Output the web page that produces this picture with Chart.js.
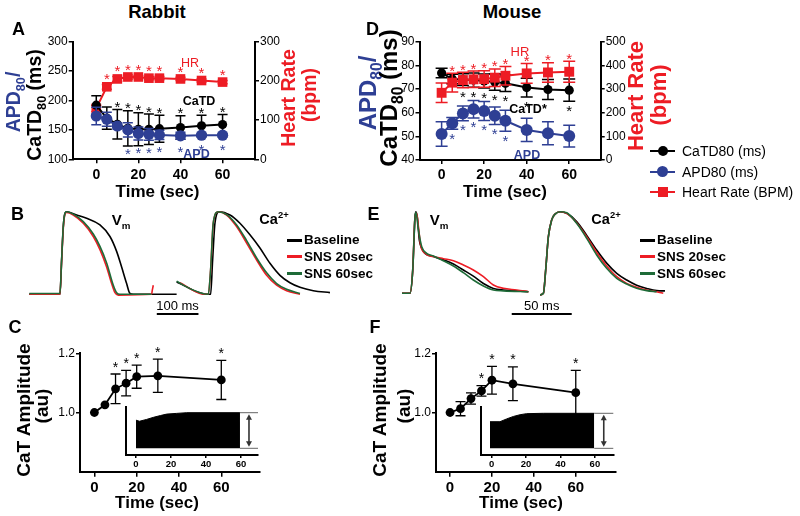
<!DOCTYPE html>
<html><head><meta charset="utf-8">
<script src="https://cdn.jsdelivr.net/npm/chart.js@4.4.1/dist/chart.umd.min.js"></script>
<style>
html,body{margin:0;padding:0;background:#fff;}
#fig{position:relative;width:800px;height:516px;overflow:hidden;font-family:"Liberation Sans",Arial,sans-serif;color:#000;background:#fff;}
#fig canvas{position:absolute;}
.t{position:absolute;white-space:nowrap;line-height:1;transform:translate(-50%,-50%);}
.r{transform:translate(-50%,-50%) rotate(-90deg);}
.b{font-weight:bold;}
.l{position:absolute;white-space:nowrap;line-height:1;transform:translate(0,-50%);}
.sw{position:absolute;}
sub,sup{font-size:65%;line-height:0;}
</style></head>
<body>
<div id="fig">
<canvas id="cA" width="285" height="175" style="left:20px;top:30px"></canvas>
<canvas id="cD" width="270" height="175" style="left:370px;top:30px"></canvas>
<canvas id="cB" width="304" height="115" style="left:29px;top:205px"></canvas>
<canvas id="cE" width="265" height="115" style="left:402px;top:205px"></canvas>
<canvas id="cC" width="250" height="196" style="left:20px;top:320px"></canvas>
<canvas id="cF" width="250" height="196" style="left:380px;top:320px"></canvas>
<canvas id="cCi" width="145" height="75" style="left:120px;top:400px"></canvas>
<canvas id="cFi" width="145" height="75" style="left:475px;top:400px"></canvas>

<div class="t b" style="left:157px;top:12px;font-size:18.5px">Rabbit</div>
<div class="t b" style="left:512px;top:12px;font-size:18.5px">Mouse</div>
<div class="t b" style="left:18.5px;top:29px;font-size:18px">A</div>
<div class="t b" style="left:372.5px;top:29px;font-size:18px">D</div>
<div class="t b" style="left:17.5px;top:214px;font-size:18px">B</div>
<div class="t b" style="left:373.5px;top:214px;font-size:18px">E</div>
<div class="t b" style="left:15px;top:327px;font-size:18px">C</div>
<div class="t b" style="left:375px;top:327px;font-size:18px">F</div>

<div class="t r b" style="left:14px;top:102px;font-size:19.5px;color:#2e3f94">APD<sub>80</sub>/</div>
<div class="t r b" style="left:35px;top:105px;font-size:19.5px">CaTD<sub>80</sub> (ms)</div>
<div class="t r b" style="left:288.5px;top:97.5px;font-size:19.5px;color:#ed1c24">Heart Rate</div>
<div class="t r b" style="left:310px;top:95px;font-size:19.5px;color:#ed1c24">(bpm)</div>
<div class="t b" style="left:157.5px;top:191px;font-size:17px">Time (sec)</div>
<div class="t" style="left:190px;top:63px;font-size:12.5px;color:#ed1c24">HR</div>
<div class="t b" style="left:199px;top:101px;font-size:12.5px">CaTD</div>
<div class="t b" style="left:196.5px;top:154px;font-size:12.5px;color:#2e3f94">APD</div>

<div class="t r b" style="left:367.5px;top:93px;font-size:24px;color:#2e3f94">APD<sub>80</sub>/</div>
<div class="t r b" style="left:389px;top:98px;font-size:24px">CaTD<sub>80</sub> (ms)</div>
<div class="t r b" style="left:636px;top:96px;font-size:22px;color:#ed1c24">Heart Rate</div>
<div class="t r b" style="left:659px;top:95px;font-size:22px;color:#ed1c24">(bpm)</div>
<div class="t b" style="left:505px;top:191px;font-size:17px">Time (sec)</div>
<div class="t" style="left:520px;top:51px;font-size:13px;color:#ed1c24">HR</div>
<div class="t b" style="left:528px;top:109px;font-size:12.5px">CaTD*</div>
<div class="t b" style="left:527px;top:155px;font-size:12.5px;color:#2e3f94">APD</div>

<div class="sw" style="left:650px;top:149.7px;width:25px;height:2px;background:#000"></div>
<div class="sw" style="left:657.5px;top:145.7px;width:10px;height:10px;border-radius:50%;background:#000"></div>
<div class="l" style="left:682px;top:151px;font-size:14px">CaTD80 (ms)</div>
<div class="sw" style="left:650px;top:170.7px;width:25px;height:2px;background:#2e3f94"></div>
<div class="sw" style="left:657px;top:166.2px;width:11px;height:11px;border-radius:50%;background:#2e3f94"></div>
<div class="l" style="left:682px;top:172px;font-size:14px">APD80 (ms)</div>
<div class="sw" style="left:650px;top:190.7px;width:25px;height:2px;background:#ed1c24"></div>
<div class="sw" style="left:657.5px;top:186.7px;width:10px;height:10px;background:#ed1c24"></div>
<div class="l" style="left:682px;top:192px;font-size:14px">Heart Rate (BPM)</div>

<div class="t b" style="left:121px;top:219px;font-size:15px">V<sub>m</sub></div>
<div class="t b" style="left:274px;top:219px;font-size:14.5px">Ca<sup>2+</sup></div>
<div class="sw" style="left:287px;top:238.5px;width:15px;height:3px;background:#000"></div>
<div class="l b" style="left:304px;top:240px;font-size:13.5px">Baseline</div>
<div class="sw" style="left:287px;top:255.2px;width:15px;height:3px;background:#ed1c24"></div>
<div class="l b" style="left:304px;top:257px;font-size:13.5px">SNS 20sec</div>
<div class="sw" style="left:287px;top:271.8px;width:15px;height:3px;background:#1e6b38"></div>
<div class="l b" style="left:304px;top:273.5px;font-size:13.5px">SNS 60sec</div>
<div class="t" style="left:177.5px;top:305px;font-size:13px">100 ms</div>

<div class="t b" style="left:439px;top:219px;font-size:15px">V<sub>m</sub></div>
<div class="t b" style="left:606px;top:219px;font-size:14.5px">Ca<sup>2+</sup></div>
<div class="sw" style="left:640px;top:238.5px;width:15px;height:3px;background:#000"></div>
<div class="l b" style="left:657px;top:240px;font-size:13.5px">Baseline</div>
<div class="sw" style="left:640px;top:255.2px;width:15px;height:3px;background:#ed1c24"></div>
<div class="l b" style="left:657px;top:257px;font-size:13.5px">SNS 20sec</div>
<div class="sw" style="left:640px;top:271.8px;width:15px;height:3px;background:#1e6b38"></div>
<div class="l b" style="left:657px;top:273.5px;font-size:13.5px">SNS 60sec</div>
<div class="t" style="left:541.7px;top:305px;font-size:13px">50 ms</div>

<div class="t r b" style="left:23px;top:410px;font-size:19px">CaT Amplitude</div>
<div class="t r b" style="left:41px;top:406px;font-size:19px">(au)</div>
<div class="t b" style="left:157px;top:502px;font-size:17px">Time (sec)</div>
<div class="t r b" style="left:379px;top:410px;font-size:19px">CaT Amplitude</div>
<div class="t r b" style="left:403px;top:406px;font-size:19px">(au)</div>
<div class="t b" style="left:521px;top:502px;font-size:17px">Time (sec)</div>
</div>

<script>
// ---------------- data ----------------
const timePoints = [0, 5, 10, 15, 20, 25, 30, 40, 50, 60];
const timeTicks = [0, 20, 40, 60];

const rabbitCaTD    = [192, 170, 159.5, 152.7, 151, 151, 152, 154, 157, 159];
const rabbitCaTDErr = [16, 19, 25, 30, 28, 26, 23, 20, 18, 17];
const rabbitAPD     = [173.6, 168, 156.6, 150, 144, 142.5, 141.5, 140, 141, 141];
const rabbitAPDErr  = [15, 12, 5, 12, 11, 10, 8, 6, 3, 3];
const rabbitHR      = [130, 185, 205, 210, 210, 207, 207, 205, 201, 197];
const rabbitHRErr   = [8, 6, 6, 5, 4, 4, 4, 4, 4, 4];
const rabbitHRSig   = [0, 1, 1, 1, 1, 1, 1, 1, 1, 1];
const rabbitCaTDSig = [0, 0, 1, 1, 1, 1, 1, 1, 1, 1];
const rabbitAPDSig  = [0, 0, 0, 1, 1, 1, 1, 1, 1, 1];
const rabbitMsTicks = [100, 150, 200, 250, 300];
const rabbitHRTicks = [0, 100, 200, 300];

const mouseCaTD    = [76.8, 74.2, 74.0, 73.8, 73.4, 73.0, 72.4, 70.6, 69.8, 69.5];
const mouseCaTDErr = [2, 2, 2.5, 3, 3, 3.5, 3.5, 4, 4.2, 4.7];
const mouseAPD     = [51.0, 55.5, 59.7, 61.5, 60.7, 58.7, 56.6, 52.7, 51.3, 50.1];
const mouseAPDErr  = [5.2, 2.5, 3.1, 3.7, 4, 3.7, 4.4, 4.9, 4.9, 4.6];
const mouseHR      = [284, 327, 338, 341, 342, 348, 356, 366, 370, 373];
const mouseHRErr   = [41, 40, 33, 35, 35, 37, 39, 42, 41, 44];
const mouseHRSig   = [0, 1, 1, 1, 1, 1, 1, 1, 1, 1];
const mouseCaTDSig = [0, 0, 1, 1, 1, 1, 1, 1, 0, 1];
const mouseAPDSig  = [0, 1, 1, 1, 1, 1, 1, 0, 0, 0];
const mouseMsTicks = [40, 50, 60, 70, 80, 90];
const mouseHRTicks = [0, 100, 200, 300, 400, 500];

// optical traces: [time (ms), normalised amplitude]
const rabbitVmBaseline = [[0,0],[73.6,0],[77.6,0.415],[81.6,0.82],[85.6,0.98],[89.6,1.0],[113.6,0.96],[137.6,0.92],[169.6,0.84],[193.6,0.70],[209.6,0.52],[221.6,0.33],[233.6,0.13],[241.6,0.01],[249.6,0],[353.6,0]];
const rabbitVmSNS20 = [[0,0],[73.6,0],[77.6,0.4],[81.6,0.8],[85.6,0.97],[89.6,0.99],[105.6,0.96],[129.6,0.86],[153.6,0.70],[169.6,0.54],[185.6,0.33],[197.6,0.13],[205.6,0.02],[213.6,-0.01],[293.6,0],[295.2,0.05],[297.6,0.11]];
const rabbitVmSNS60 = [[0,0.01],[73.6,0.01],[77.6,0.42],[81.6,0.82],[85.6,0.98],[89.6,1.0],[105.6,0.97],[129.6,0.88],[153.6,0.73],[169.6,0.58],[185.6,0.38],[201.6,0.11],[209.6,0.02],[217.6,0],[293.6,0]];
const rabbitCaBaseline = [[353.6,0.15],[377.6,0.09],[401.6,0.03],[425.6,0],[435.2,0],[440,0.415],[445.6,0.86],[456,1.0],[481.6,0.96],[505.6,0.86],[529.6,0.72],[553.6,0.56],[577.6,0.375],[601.6,0.23],[625.6,0.14],[649.6,0.085],[681.6,0.044],[721.6,0.02]];
const rabbitCaSNS20 = [[361.6,0.14],[409.6,0.01],[429.6,0],[435.2,0.29],[441.6,0.86],[453.6,1.0],[473.6,0.96],[497.6,0.82],[521.6,0.62],[545.6,0.415],[569.6,0.23],[593.6,0.11],[617.6,0.044],[649.6,0]];
const rabbitCaSNS60 = [[353.6,0.16],[377.6,0.09],[409.6,0.02],[429.6,0],[435.2,0.3],[441.6,0.87],[453.6,1.0],[473.6,0.965],[497.6,0.84],[521.6,0.65],[545.6,0.44],[569.6,0.26],[593.6,0.13],[617.6,0.06],[649.6,0.01]];

const mouseVmBaseline = [[0,0],[6.9,0],[9.2,0.286],[11.1,0.94],[11.9,1.0],[13.1,0.92],[14.7,0.65],[16.7,0.55],[19.4,0.49],[26.4,0.45],[34.7,0.41],[43.1,0.36],[51.4,0.286],[59.7,0.21],[68.1,0.12],[76.4,0.06],[84.7,0.04],[95.8,0.03],[105.6,0.02]];
const mouseVmSNS20 = [[0,0],[6.9,0],[9.2,0.286],[11.1,0.94],[12.5,0.98],[13.9,0.82],[15.8,0.59],[19.4,0.49],[26.4,0.45],[34.7,0.424],[43.1,0.40],[51.4,0.347],[59.7,0.286],[68.1,0.204],[76.4,0.102],[84.7,0.061],[95.8,0.041],[105.6,0.02]];
const mouseVmSNS60 = [[0,0],[6.9,0],[9.2,0.286],[11.1,0.94],[11.9,0.99],[13.9,0.78],[16.7,0.57],[20.8,0.49],[26.4,0.457],[34.7,0.40],[43.1,0.335],[51.4,0.253],[59.7,0.163],[68.1,0.09],[76.4,0.04],[84.7,0.03],[105.6,0.02]];
const mouseCaBaseline = [[115.3,-0.02],[118.1,0],[120,0.286],[122.2,0.69],[125,0.9],[127.8,0.97],[132,1.0],[137.5,0.98],[145.8,0.88],[154.2,0.71],[162.5,0.53],[170.8,0.37],[179.2,0.245],[187.5,0.163],[195.8,0.10],[204.2,0.06],[212.5,0.033],[219.4,0.03]];
const mouseCaSNS20 = [[115.3,-0.02],[118.1,0],[120,0.286],[122.2,0.69],[125,0.9],[127.8,0.97],[132,1.0],[137.5,0.98],[145.8,0.865],[154.2,0.69],[162.5,0.50],[170.8,0.335],[179.2,0.204],[187.5,0.122],[195.8,0.073],[204.2,0.04],[212.5,0.02],[218,0]];
const mouseCaSNS60 = [[115.3,-0.02],[118.1,0],[120,0.286],[122.2,0.69],[125,0.9],[127.8,0.97],[132,1.0],[137.5,0.988],[145.8,0.857],[154.2,0.673],[162.5,0.47],[170.8,0.306],[179.2,0.184],[187.5,0.114],[195.8,0.061],[204.2,0.033],[212.5,0.02]];

// CaT amplitude
const ampTimes = [0, 5, 10, 15, 20, 30, 60];
const rabbitAmp    = [1.0, 1.026, 1.08, 1.099, 1.121, 1.124, 1.11];
const rabbitAmpErr = [0, 0, 0.05, 0.043, 0.039, 0.056, 0.066];
const rabbitAmpSig = [0, 0, 1, 1, 1, 1, 1];
const mouseAmp     = [1.0, 1.013, 1.047, 1.073, 1.109, 1.097, 1.067];
const mouseAmpErr  = [0, 0.024, 0.019, 0.018, 0.047, 0.057, 0.075];
const mouseAmpSig  = [0, 0, 0, 1, 1, 1, 1];
const ampTicks = [1.0, 1.2];

// inset envelopes (upper envelope of the CaT train, normalised)
const rabbitInsetT   = [0, 2, 6, 10, 14, 17.5, 23, 29, 59.4];
const rabbitInsetTop = [0.79, 0.76, 0.81, 0.87, 0.92, 0.96, 0.98, 1.0, 1.0];
const mouseInsetT    = [-1, 4.8, 8.7, 12.6, 16.5, 20.3, 30, 59.6];
const mouseInsetTop  = [0.76, 0.76, 0.84, 0.91, 0.96, 0.99, 1.0, 1.0];

// ---------------- helpers ----------------
const FONT = '"Liberation Sans", Arial, sans-serif';
const RED = '#ed1c24', BLUE = '#2e3f94', GREEN = '#1e6b38', BLACK = '#000';
const pts = (xs, ys) => xs.map((x, i) => ({x, y: ys[i]}));
const pairs = arr => arr.map(([x, y]) => ({x, y}));

function errPix(chart, di, i, sign) {
  const ds = chart.data.datasets[di];
  const meta = chart.getDatasetMeta(di);
  const sc = chart.scales[meta.yAxisID];
  const e = ds.errors ? (ds.errors[i] || 0) : 0;
  return sc.getPixelForValue(ds.data[i].y + sign * e);
}

const errorBarPlugin = {
  id: 'errorBars',
  beforeDatasetDraw(chart, args) {
    const ds = chart.data.datasets[args.index];
    if (!ds.errors) return;
    const meta = args.meta, ctx = chart.ctx;
    const cap = ds.errCap || 5;
    ctx.save();
    ctx.strokeStyle = ds.borderColor;
    ctx.lineWidth = ds.errWidth || 1.5;
    meta.data.forEach((pt, i) => {
      if (!ds.errors[i]) return;
      const x = pt.x;
      const yT = errPix(chart, args.index, i, 1), yB = errPix(chart, args.index, i, -1);
      ctx.beginPath();
      ctx.moveTo(x, yT); ctx.lineTo(x, yB);
      ctx.moveTo(x - cap, yT); ctx.lineTo(x + cap, yT);
      ctx.moveTo(x - cap, yB); ctx.lineTo(x + cap, yB);
      ctx.stroke();
    });
    ctx.restore();
  }
};

const starPlugin = {
  id: 'stars',
  afterDatasetsDraw(chart) {
    const ctx = chart.ctx;
    chart.data.datasets.forEach((ds, di) => {
      if (!ds.sig) return;
      const meta = chart.getDatasetMeta(di);
      const size = ds.starSize || 15;
      ctx.save();
      ctx.font = size + 'px ' + FONT;
      ctx.fillStyle = ds.borderColor;
      ctx.textAlign = 'center';
      ctx.textBaseline = 'alphabetic';
      ds.sig.forEach((s, i) => {
        if (!s) return;
        const x = meta.data[i].x;
        let y;
        if (ds.starSide === 'below') {
          y = errPix(chart, di, i, -1) + ds.starGap;
          (ds.starAvoid || []).forEach(([oi, g]) => { y = Math.max(y, errPix(chart, oi, i, -1) + g); });
        } else {
          y = errPix(chart, di, i, 1) - ds.starGap;
          (ds.starAvoid || []).forEach(([oi, g]) => { y = Math.min(y, errPix(chart, oi, i, 1) - g); });
        }
        ctx.fillText('*', x, y + 0.57 * size);
      });
      ctx.restore();
    });
  }
};

const scaleBarPlugin = {
  id: 'scaleBar',
  afterDraw(chart, args, o) {
    if (!o || o.length == null) return;
    const xs = chart.scales.x, ys = chart.scales.y, ctx = chart.ctx;
    ctx.save();
    ctx.strokeStyle = '#000'; ctx.lineWidth = 2;
    ctx.beginPath();
    const y = ys.getPixelForValue(o.level);
    ctx.moveTo(xs.getPixelForValue(o.start), y);
    ctx.lineTo(xs.getPixelForValue(o.start + o.length), y);
    ctx.stroke();
    ctx.restore();
  }
};

const insetPlugin = {
  id: 'insetMarks',
  afterDraw(chart, args, o) {
    if (!o || o.from == null) return;
    const xs = chart.scales.x, ys = chart.scales.y, ctx = chart.ctx;
    const x0 = xs.getPixelForValue(o.from), x1 = chart.chartArea.right;
    const yTop = ys.getPixelForValue(1), yBot = ys.getPixelForValue(0);
    ctx.save();
    ctx.strokeStyle = '#666'; ctx.lineWidth = 1;
    ctx.beginPath();
    ctx.moveTo(x0, yTop); ctx.lineTo(x1, yTop);
    ctx.moveTo(x0, yBot); ctx.lineTo(x1, yBot);
    ctx.stroke();
    const xa = (x0 + x1) / 2;
    ctx.strokeStyle = '#333'; ctx.fillStyle = '#333'; ctx.lineWidth = 1.6;
    ctx.beginPath(); ctx.moveTo(xa, yTop + 4); ctx.lineTo(xa, yBot - 4); ctx.stroke();
    ctx.beginPath(); ctx.moveTo(xa, yTop + 1.5); ctx.lineTo(xa - 3, yTop + 7); ctx.lineTo(xa + 3, yTop + 7); ctx.closePath(); ctx.fill();
    ctx.beginPath(); ctx.moveTo(xa, yBot - 1.5); ctx.lineTo(xa - 3, yBot - 7); ctx.lineTo(xa + 3, yBot - 7); ctx.closePath(); ctx.fill();
    ctx.restore();
  }
};

const baseOpts = {
  responsive: false, animation: false, devicePixelRatio: 1, events: [],
  plugins: { legend: {display: false}, tooltip: {enabled: false} }
};

function axis(o) {
  const a = {
    type: 'linear',
    grid: {drawOnChartArea: false, drawTicks: true, tickLength: 4, color: '#000', lineWidth: 1.5},
    border: {display: true, color: '#000', width: 2},
    ticks: {color: '#000', autoSkip: false, maxRotation: 0, padding: 1, font: {family: FONT, size: 12}}
  };
  if (o.tickVals) a.afterBuildTicks = s => { s.ticks = o.tickVals.map(v => ({value: v})); };
  if (o.w != null) a.afterFit = s => { s.width = o.w; };
  if (o.h != null) a.afterFit = s => { s.height = o.h; };
  for (const k of ['min', 'max', 'position', 'display']) if (o[k] !== undefined) a[k] = o[k];
  if (o.bold) { a.ticks.font = {family: FONT, size: o.bold, weight: 'bold'}; a.ticks.padding = o.pad != null ? o.pad : 3; }
  if (o.fmt) a.ticks.callback = o.fmt;
  if (o.noTickLabels) { a.ticks.display = false; a.grid.drawTicks = false; }
  if (o.tickLen) a.grid.tickLength = o.tickLen;
  return a;
}

function series(label, xs, ys, o) {
  return Object.assign({
    label, data: pts(xs, ys), borderColor: o.color, backgroundColor: o.color,
    borderWidth: 2, pointBorderWidth: 0, pointRadius: 4.5, clip: false
  }, o.extra);
}

// ---------------- Panel A ----------------
new Chart(document.getElementById('cA'), {
  type: 'line',
  data: {datasets: [
    series('Heart Rate (BPM)', timePoints, rabbitHR, {color: RED, extra: {yAxisID: 'y2', pointStyle: 'rect', pointRadius: 6.8, order: 3,
      errors: rabbitHRErr, errCap: 5, sig: rabbitHRSig, starSide: 'above', starGap: 9}}),
    series('CaTD80 (ms)', timePoints, rabbitCaTD, {color: BLACK, extra: {yAxisID: 'y', pointRadius: 4.6, order: 2,
      errors: rabbitCaTDErr, errCap: 5, sig: rabbitCaTDSig, starSide: 'above', starGap: 6}}),
    series('APD80 (ms)', timePoints, rabbitAPD, {color: BLUE, extra: {yAxisID: 'y', pointRadius: 5.6, order: 1,
      errors: rabbitAPDErr, errCap: 5, sig: rabbitAPDSig, starSide: 'below', starGap: 9, starAvoid: [[1, 4]]}})
  ]},
  options: Object.assign({}, baseOpts, {
    layout: {padding: {top: 11.7, left: 0, right: 0, bottom: 0}},
    scales: {
      x: axis({min: -11.2, max: 75.4, tickVals: timeTicks, h: 45.7, bold: 14, pad: 3}),
      y: axis({min: 100, max: 300, tickVals: rabbitMsTicks, w: 52.7, position: 'left'}),
      y2: axis({min: 0, max: 300, tickVals: rabbitHRTicks, w: 50, position: 'right'})
    }
  }),
  plugins: [errorBarPlugin, starPlugin]
});

// ---------------- Panel D ----------------
new Chart(document.getElementById('cD'), {
  type: 'line',
  data: {datasets: [
    series('Heart Rate (BPM)', timePoints, mouseHR, {color: RED, extra: {yAxisID: 'y2', pointStyle: 'rect', pointRadius: 7, order: 2,
      errors: mouseHRErr, errCap: 6, sig: mouseHRSig, starSide: 'above', starGap: 6}}),
    series('CaTD80 (ms)', timePoints, mouseCaTD, {color: BLACK, extra: {yAxisID: 'y', pointRadius: 4.6, order: 3,
      errors: mouseCaTDErr, errCap: 6, sig: mouseCaTDSig, starSide: 'below', starGap: 6, starAvoid: [[0, 6]]}}),
    series('APD80 (ms)', timePoints, mouseAPD, {color: BLUE, extra: {yAxisID: 'y', pointRadius: 6, order: 1,
      errors: mouseAPDErr, errCap: 6, sig: mouseAPDSig, starSide: 'below', starGap: 6}})
  ]},
  options: Object.assign({}, baseOpts, {
    layout: {padding: {top: 11.7, left: 0, right: 0, bottom: 0}},
    scales: {
      x: axis({min: -10.4, max: 74.8, tickVals: timeTicks, h: 45, bold: 14, pad: 3}),
      y: axis({min: 40, max: 90, tickVals: mouseMsTicks, w: 49.5, position: 'left'}),
      y2: axis({min: 0, max: 500, tickVals: mouseHRTicks, w: 39.3, position: 'right'})
    }
  }),
  plugins: [errorBarPlugin, starPlugin]
});

// ---------------- Panels B / E (traces) ----------------
function trace(label, arr, color, order) {
  return {label, data: pairs(arr), borderColor: color, borderWidth: 1.6, pointRadius: 0,
          cubicInterpolationMode: 'monotone', order, clip: false};
}
new Chart(document.getElementById('cB'), {
  type: 'line',
  data: {datasets: [
    trace('Baseline', rabbitVmBaseline, BLACK, 3), trace('SNS 20sec', rabbitVmSNS20, RED, 2), trace('SNS 60sec', rabbitVmSNS60, GREEN, 1),
    trace('Baseline', rabbitCaBaseline, BLACK, 3), trace('SNS 20sec', rabbitCaSNS20, RED, 2), trace('SNS 60sec', rabbitCaSNS60, GREEN, 1)
  ]},
  options: Object.assign({}, baseOpts, {
    layout: {padding: 0},
    scales: {x: {type: 'linear', display: false, min: -0.7, max: 728.9}, y: {type: 'linear', display: false, min: -0.311, max: 1.081}},
    plugins: {legend: {display: false}, tooltip: {enabled: false}, scaleBar: {start: 306, length: 100, level: -0.238}}
  }),
  plugins: [scaleBarPlugin]
});
new Chart(document.getElementById('cE'), {
  type: 'line',
  data: {datasets: [
    trace('Baseline', mouseVmBaseline, BLACK, 3), trace('SNS 20sec', mouseVmSNS20, RED, 2), trace('SNS 60sec', mouseVmSNS60, GREEN, 1),
    trace('Baseline', mouseCaBaseline, BLACK, 3), trace('SNS 20sec', mouseCaSNS20, RED, 2), trace('SNS 60sec', mouseCaSNS60, GREEN, 1)
  ]},
  options: Object.assign({}, baseOpts, {
    layout: {padding: 0},
    scales: {x: {type: 'linear', display: false, min: 0.25, max: 221.1}, y: {type: 'linear', display: false, min: -0.327, max: 1.082}},
    plugins: {legend: {display: false}, tooltip: {enabled: false}, scaleBar: {start: 91.7, length: 50, level: -0.254}}
  }),
  plugins: [scaleBarPlugin]
});

// ---------------- Panels C / F ----------------
function ampChart(id, vals, errs, sig, yw, padR, xmin, xmax) {
  new Chart(document.getElementById(id), {
    type: 'line',
    data: {datasets: [
      series('CaT amplitude', ampTimes, vals, {color: BLACK, extra: {pointRadius: 4.4, borderWidth: 1.8,
        errors: errs, errCap: 5, errWidth: 1.3, sig, starSide: 'above', starGap: 10.5, starSize: 14}})
    ]},
    options: Object.assign({}, baseOpts, {
      layout: {padding: {top: 33.3, left: 0, right: padR, bottom: 0}},
      scales: {
        x: axis({min: xmin, max: xmax, tickVals: timeTicks, h: 44.3, bold: 15, pad: 2, tickLen: 5}),
        y: axis({min: 0.8, max: 1.2, tickVals: ampTicks, w: yw, position: 'left', fmt: v => v.toFixed(1)})
      }
    }),
    plugins: [errorBarPlugin, starPlugin]
  });
}
ampChart('cC', rabbitAmp, rabbitAmpErr, rabbitAmpSig, 60, 10, -6.8, 78.3);
ampChart('cF', mouseAmp, mouseAmpErr, mouseAmpSig, 56, 14, -6.7, 79.2);

function insetChart(id, ts, top, yw, padR, xmin, xmax, ymin, ymax) {
  new Chart(document.getElementById(id), {
    type: 'line',
    data: {datasets: [{label: 'CaT train', data: pts(ts, top), borderColor: '#000', backgroundColor: '#000',
      borderWidth: 1, pointRadius: 0, fill: 'origin', clip: false}]},
    options: Object.assign({}, baseOpts, {
      layout: {padding: {top: 7, left: 0, right: padR, bottom: 0}},
      scales: {
        x: axis({min: xmin, max: xmax, tickVals: timeTicks, h: 20, bold: 9.5, pad: 1, tickLen: 3}),
        y: axis({min: ymin, max: ymax, w: yw, position: 'left', noTickLabels: true})
      },
      plugins: {legend: {display: false}, tooltip: {enabled: false}, insetMarks: {from: ts[ts.length - 1]}}
    }),
    plugins: [insetPlugin]
  });
}
insetChart('cCi', rabbitInsetT, rabbitInsetTop, 6, 7, -5.7, 69.7, -0.188, 1.16);
insetChart('cFi', mouseInsetT, mouseInsetTop, 5.7, 6.7, -6.4, 70.7, -0.19, 1.18);
</script>
</body></html>
